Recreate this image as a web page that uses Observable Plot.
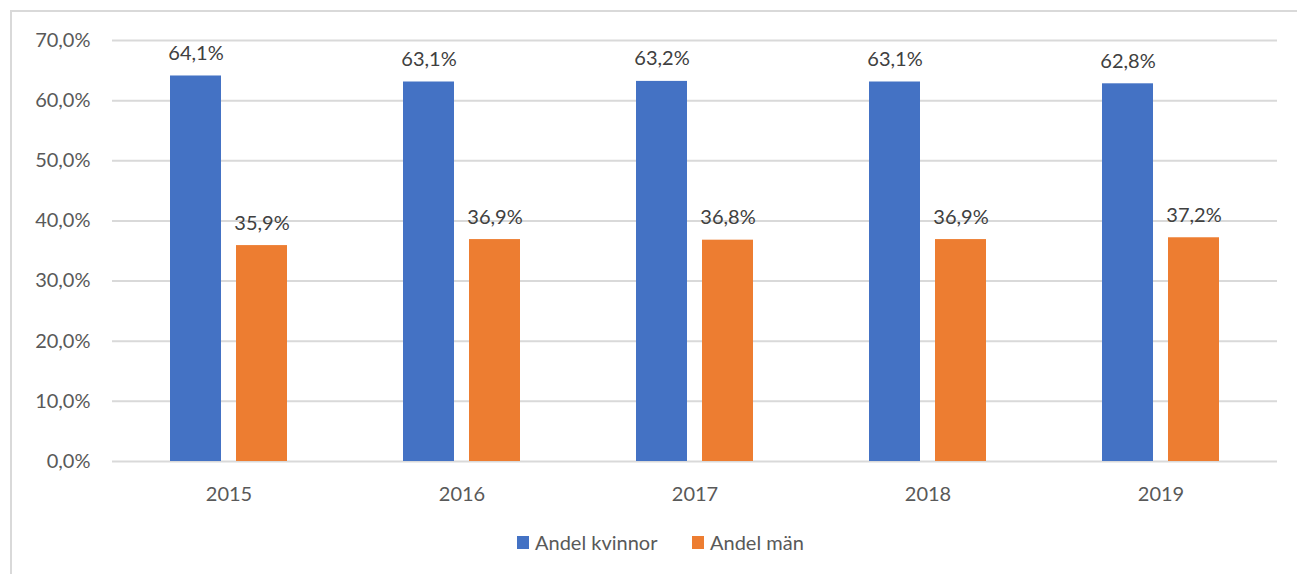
<!DOCTYPE html>
<html>
<head>
<meta charset="utf-8">
<script src="https://cdn.jsdelivr.net/npm/d3@7"></script>
<script src="https://cdn.jsdelivr.net/npm/@observablehq/plot@0.6"></script>
<style>
  html, body { margin: 0; padding: 0; background: #fff; overflow: hidden; }
  body { width: 1297px; height: 574px; position: relative; font-family: Lato, "Open Sans", sans-serif; }
  #frame { position: absolute; left: 10px; top: 10px; width: 1400px; height: 700px; border-left: 2px solid #d9d9d9; border-top: 2px solid #d9d9d9; box-sizing: border-box; }
  #chart { position: absolute; left: 0; top: 0; }
  #legend { position: absolute; top: 530px; left: 0; width: 1297px; height: 26px; }
  .sw { position: absolute; width: 12px; height: 13px; top: 6px; }
  .lt { position: absolute; top: 0px; font-size: 20px; color: #595959; line-height: 24px; white-space: nowrap; }
</style>
</head>
<body>
<div id="frame"></div>
<div id="chart"></div>
<div id="legend">
  <div class="sw" style="left:517px;background:#4472C4"></div><div class="lt" style="left:535px">Andel kvinnor</div>
  <div class="sw" style="left:692px;background:#ED7D31"></div><div class="lt" style="left:710px">Andel män</div>
</div>
<script>
const years = ["2015", "2016", "2017", "2018", "2019"];
const series = ["Andel kvinnor", "Andel män"];
const kvinnor = [64.1, 63.1, 63.2, 63.1, 62.8];
const man = [35.9, 36.9, 36.8, 36.9, 37.2];
const yTicks = [0, 10, 20, 30, 40, 50, 60, 70];
const colors = ["#4472C4", "#ED7D31"];

const data = [];
years.forEach((y, i) => {
  data.push({year: y, series: series[0], value: kvinnor[i]});
  data.push({year: y, series: series[1], value: man[i]});
});
const fmt = v => v.toFixed(1).replace(".", ",") + "%";

const chart = Plot.plot({
  width: 1297,
  height: 515,
  marginLeft: 111,
  marginRight: 19,
  marginTop: 40,
  marginBottom: 54,
  style: {fontFamily: "Lato, 'Open Sans', sans-serif", fontSize: "20px", color: "#595959", background: "transparent"},
  fx: {domain: years, padding: 0, label: null, axis: "bottom", tickSize: 0, tickPadding: 25},
  x: {domain: series, paddingInner: 0.224, paddingOuter: 0.854, axis: null},
  y: {domain: [0, 70], ticks: yTicks, tickFormat: fmt, tickSize: 0, tickPadding: 22, label: null},
  color: {domain: series, range: colors},
  marks: [
    Plot.ruleY(yTicks, {stroke: "#d9d9d9", strokeWidth: 2}),
    Plot.barY(data, {fx: "year", x: "series", y: "value", fill: "series"}),
    Plot.text(data, {fx: "year", x: "series", y: "value", text: d => fmt(d.value), lineAnchor: "bottom", dy: -16, fill: "#404040", fontSize: 20})
  ]
});
document.getElementById("chart").appendChild(chart);
</script>
</body>
</html>
